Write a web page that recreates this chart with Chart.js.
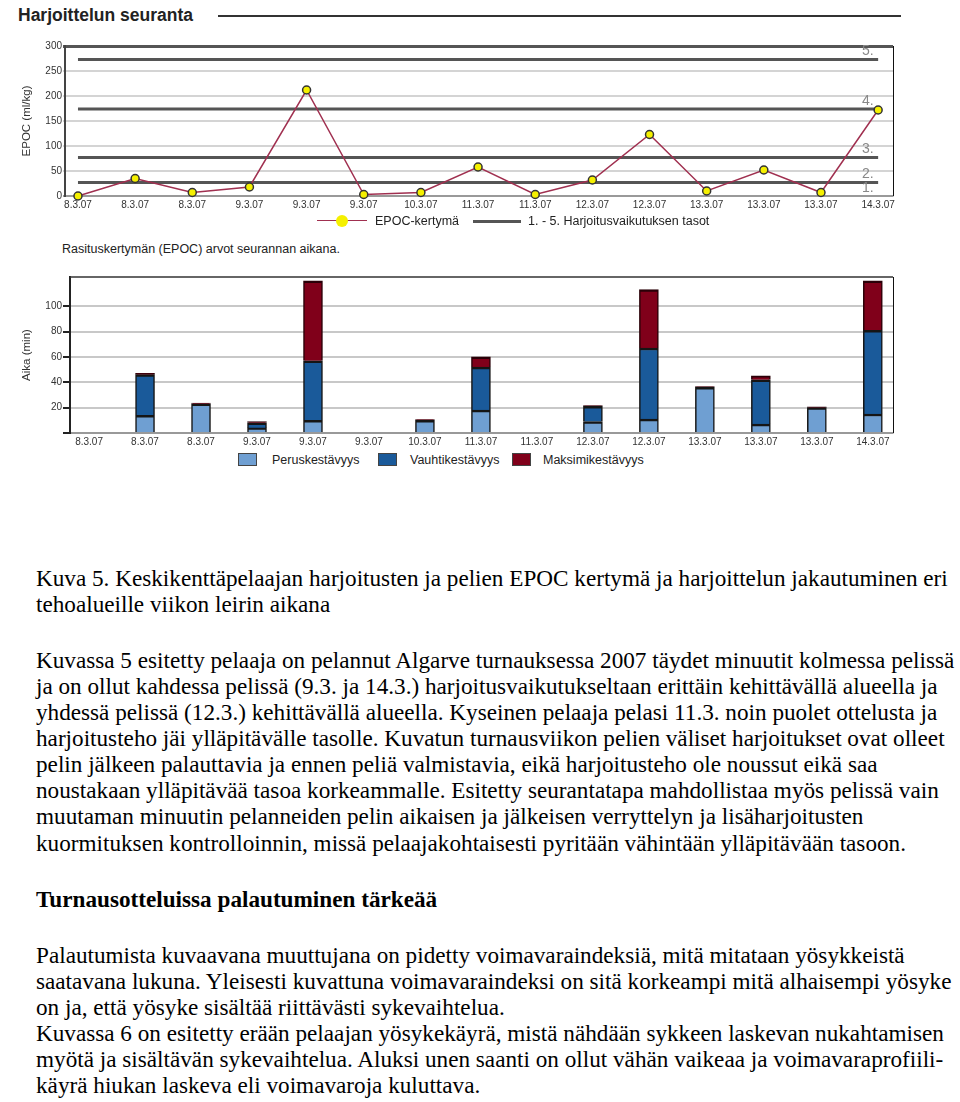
<!DOCTYPE html>
<html>
<head>
<meta charset="utf-8">
<script src="https://cdn.jsdelivr.net/npm/chart.js@4.4.0/dist/chart.umd.min.js"></script>
<style>
body { margin:0; background:#fff; width:960px; height:1102px; position:relative; overflow:hidden; font-family:"Liberation Sans", Arial, sans-serif; }
.abs { position:absolute; }
#title { left:18px; top:5px; font-size:17.5px; font-weight:bold; color:#222; }
#rule { left:218px; top:15px; width:683px; border-top:2px solid #333; }
#c1wrap { left:0; top:30px; width:910px; height:190px; }
#c2wrap { left:0; top:260px; width:910px; height:190px; }
.lg { position:absolute; font-size:12.5px; color:#222; white-space:nowrap; line-height:14px; }
.box { position:absolute; width:19px; height:13px; border:1px solid #444; box-sizing:border-box; }
.txt { position:absolute; left:36px; font-family:"Liberation Serif","Times New Roman",serif; font-size:23.2px; line-height:26px; color:#000; white-space:nowrap; }
</style>
</head>
<body>
<div id="title" class="abs">Harjoittelun seuranta</div>
<div id="rule" class="abs"></div>

<div id="c1wrap" class="abs"><canvas id="epocChart"></canvas></div>

<!-- legend of the line chart -->
<div class="abs" style="left:317px; top:220px; width:50px; border-top:1.5px solid #a03050;"></div>
<div class="abs" style="left:336px; top:215px; width:12px; height:12px; border-radius:50%; background:#f5f000;"></div>
<div class="lg" style="left:375px; top:214px;">EPOC-kertymä</div>
<div class="abs" style="left:473px; top:220px; width:48px; border-top:3px solid #555;"></div>
<div class="lg" style="left:528px; top:214px;">1. - 5. Harjoitusvaikutuksen tasot</div>
<div class="lg" style="left:62px; top:242px;">Rasituskertymän (EPOC) arvot seurannan aikana.</div>

<div id="c2wrap" class="abs"><canvas id="timeChart"></canvas></div>

<!-- legend of the bar chart -->
<div class="box" style="left:238px; top:453px; background:#6f9fd2;"></div>
<div class="lg" style="left:272px; top:453px;">Peruskestävyys</div>
<div class="box" style="left:378px; top:453px; background:#1a5a9a;"></div>
<div class="lg" style="left:410px; top:453px;">Vauhtikestävyys</div>
<div class="box" style="left:512px; top:453px; background:#80001a;"></div>
<div class="lg" style="left:543px; top:453px;">Maksimikestävyys</div>

<div class="txt" style="top:565px;">Kuva 5. Keskikenttäpelaajan harjoitusten ja pelien EPOC kertymä ja harjoittelun jakautuminen eri</div>
<div class="txt" style="top:591px;">tehoalueille viikon leirin aikana</div>
<div class="txt" style="top:647px;">Kuvassa 5 esitetty pelaaja on pelannut Algarve turnauksessa 2007 täydet minuutit kolmessa pelissä</div>
<div class="txt" style="top:673px;">ja on ollut kahdessa pelissä (9.3. ja 14.3.) harjoitusvaikutukseltaan erittäin kehittävällä alueella ja</div>
<div class="txt" style="top:699px;">yhdessä pelissä (12.3.) kehittävällä alueella. Kyseinen pelaaja pelasi 11.3. noin puolet ottelusta ja</div>
<div class="txt" style="top:725px;">harjoitusteho jäi ylläpitävälle tasolle. Kuvatun turnausviikon pelien väliset harjoitukset ovat olleet</div>
<div class="txt" style="top:751px;">pelin jälkeen palauttavia ja ennen peliä valmistavia, eikä harjoitusteho ole noussut eikä saa</div>
<div class="txt" style="top:777px;">noustakaan ylläpitävää tasoa korkeammalle. Esitetty seurantatapa mahdollistaa myös pelissä vain</div>
<div class="txt" style="top:803px;">muutaman minuutin pelanneiden pelin aikaisen ja jälkeisen verryttelyn ja lisäharjoitusten</div>
<div class="txt" style="top:830px;">kuormituksen kontrolloinnin, missä pelaajakohtaisesti pyritään vähintään ylläpitävään tasoon.</div>
<div class="txt" style="top:886px; font-weight:bold;">Turnausotteluissa palautuminen tärkeää</div>
<div class="txt" style="top:942px;">Palautumista kuvaavana muuttujana on pidetty voimavaraindeksiä, mitä mitataan yösykkeistä</div>
<div class="txt" style="top:968px;">saatavana lukuna. Yleisesti kuvattuna voimavaraindeksi on sitä korkeampi mitä alhaisempi yösyke</div>
<div class="txt" style="top:994px;">on ja, että yösyke sisältää riittävästi sykevaihtelua.</div>
<div class="txt" style="top:1020px;">Kuvassa 6 on esitetty erään pelaajan yösykekäyrä, mistä nähdään sykkeen laskevan nukahtamisen</div>
<div class="txt" style="top:1046px;">myötä ja sisältävän sykevaihtelua. Aluksi unen saanti on ollut vähän vaikeaa ja voimavaraprofiili-</div>
<div class="txt" style="top:1072px;">käyrä hiukan laskeva eli voimavaroja kuluttava.</div>

<script>
// data
const dates = ['8.3.07', '8.3.07', '8.3.07', '9.3.07', '9.3.07', '9.3.07', '10.3.07', '11.3.07',
    '11.3.07', '12.3.07', '12.3.07', '13.3.07', '13.3.07', '13.3.07', '14.3.07'];
const epoc = [0, 35, 7, 18, 212, 3, 7, 58, 3, 32, 123, 10, 52, 7, 172];
const levelValues = [0, 27, 77, 174, 273];
const levelNames = ['1.', '2.', '3.', '4.', '5.'];
const epocTicks = [0, 50, 100, 150, 200, 250, 300];

const perus = [0, 14, 23, 4, 10, 0, 10, 18, 0, 9, 11, 36, 7, 20, 15];
const vauhti = [0, 32, 0, 4, 47, 0, 0, 34, 0, 12, 56, 0, 35, 0, 66];
const maksimi = [0, 1, 0.6, 1, 63, 0, 0.6, 8, 0, 0.6, 46, 0.6, 3, 0.6, 39];
const timeTicks = [0, 20, 40, 60, 80, 100];

Chart.defaults.font.family = '"Liberation Sans", Arial, sans-serif';
Chart.defaults.font.size = 10;
Chart.defaults.color = '#333';

const toPoints = arr => arr.map((v, i) => ({ x: i, y: v }));

// right border (and optional top line) of the plot area
const framePlugin = {
    id: 'frame',
    afterDraw(chart, args, opts) {
        const { ctx, chartArea } = chart;
        ctx.save();
        ctx.strokeStyle = '#111';
        ctx.lineWidth = 1;
        ctx.beginPath();
        ctx.moveTo(chartArea.right + 0.5, chartArea.top);
        ctx.lineTo(chartArea.right + 0.5, chartArea.bottom);
        ctx.stroke();
        if (opts.top) {
            ctx.strokeStyle = opts.top;
            ctx.lineWidth = 1.5;
            ctx.beginPath();
            ctx.moveTo(chartArea.left, chartArea.top);
            ctx.lineTo(chartArea.right, chartArea.top);
            ctx.stroke();
        }
        ctx.restore();
    }
};

const levelLabelPlugin = {
    id: 'levelLabels',
    afterDatasetsDraw(chart) {
        const { ctx, chartArea } = chart;
        const y = chart.scales.y;
        ctx.save();
        ctx.font = '14px "Liberation Sans", Arial';
        ctx.fillStyle = '#888';
        ctx.textAlign = 'left';
        ctx.textBaseline = 'bottom';
        levelValues.forEach((v, i) => {
            ctx.fillText(levelNames[i], chartArea.right - 31, y.getPixelForValue(v) - 1);
        });
        ctx.restore();
    }
};

// level lines
const levelSets = levelValues.filter(v => v > 0).map(v => ({
    type: 'line',
    data: [{ x: 0, y: v }, { x: dates.length - 1, y: v }],
    borderColor: '#555',
    borderWidth: 3,
    pointRadius: 0,
    order: 2
}));

const epocChart = new Chart(document.getElementById('epocChart'), {
    type: 'line',
    data: {
        datasets: [{
            label: 'EPOC-kertymä',
            data: toPoints(epoc),
            borderColor: '#a03050',
            borderWidth: 1.5,
            pointBackgroundColor: '#f5f000',
            pointBorderColor: '#333',
            pointBorderWidth: 1.5,
            pointRadius: 4,
            clip: 6,
            order: 1
        }, ...levelSets]
    },
    options: {
        responsive: true,
        maintainAspectRatio: false,
        animation: false,
        layout: { padding: { top: 16, right: 17, left: 0, bottom: 0 } },
        plugins: { legend: { display: false }, tooltip: { enabled: false } },
        scales: {
            x: {
                type: 'linear',
                offset: false,
                min: -0.227,
                max: 14.26,
                afterBuildTicks: s => { s.ticks = dates.map((d, i) => ({ value: i })); },
                afterFit: s => { s.height = 24; },
                ticks: { callback: v => dates[v], maxRotation: 0, autoSkip: false, padding: 3 },
                grid: { display: false, drawTicks: false, tickLength: 0 },
                border: { color: '#999', width: 1.5 }
            },
            y: {
                min: 0,
                max: 300,
                afterBuildTicks: s => { s.ticks = epocTicks.map(v => ({ value: v })); },
                afterFit: s => { s.width = 65; },
                ticks: { padding: 1 },
                grid: {
                    color: c => c.tick.value === 300 ? '#555' : (c.tick.value === 0 ? '#999' : '#d4d4d4'),
                    lineWidth: c => c.tick.value === 300 ? 3 : 2,
                    tickLength: 2
                },
                border: { color: '#444', width: 2 },
                title: { display: true, text: 'EPOC (ml/kg)', font: { size: 11.5 }, padding: { top: 20, bottom: 0 } }
            }
        }
    },
    plugins: [framePlugin, levelLabelPlugin]
});

const barStyle = {
    borderColor: '#151515',
    borderWidth: { top: 2.5, left: 1.5, right: 1.5, bottom: 0 },
    borderSkipped: false,
    barThickness: 19
};

const timeChart = new Chart(document.getElementById('timeChart'), {
    type: 'bar',
    data: {
        datasets: [
            { label: 'Peruskestävyys', data: toPoints(perus), backgroundColor: '#6f9fd2', ...barStyle },
            { label: 'Vauhtikestävyys', data: toPoints(vauhti), backgroundColor: '#1a5a9a', ...barStyle },
            { label: 'Maksimikestävyys', data: toPoints(maksimi), backgroundColor: '#80001a', ...barStyle, borderColor: '#2a0008' }
        ]
    },
    options: {
        responsive: true,
        maintainAspectRatio: false,
        animation: false,
        layout: { padding: { top: 17, right: 17, left: 0, bottom: 0 } },
        plugins: { legend: { display: false }, tooltip: { enabled: false }, frame: { top: '#333' } },
        scales: {
            x: {
                type: 'linear',
                offset: false,
                stacked: true,
                min: -0.34,
                max: 14.36,
                afterBuildTicks: s => { s.ticks = dates.map((d, i) => ({ value: i })); },
                afterFit: s => { s.height = 17; },
                ticks: { callback: v => dates[v], maxRotation: 0, autoSkip: false, padding: 3 },
                grid: { display: false, drawTicks: false, tickLength: 0 },
                border: { color: '#999', width: 1.5 }
            },
            y: {
                stacked: true,
                min: 0,
                max: 123,
                afterBuildTicks: s => { s.ticks = timeTicks.map(v => ({ value: v })); },
                afterFit: s => { s.width = 70; },
                ticks: { padding: 1, callback: v => v === 0 ? '' : v },
                grid: {
                    color: c => c.tick.value === 0 ? '#999' : '#c8c8c8',
                    lineWidth: 2,
                    tickColor: '#222',
                    tickLength: 7
                },
                border: { color: '#222', width: 2 },
                title: { display: true, text: 'Aika (min)', font: { size: 11.5 }, padding: { top: 20, bottom: 0 } }
            }
        }
    },
    plugins: [framePlugin]
});
</script>
</body>
</html>
